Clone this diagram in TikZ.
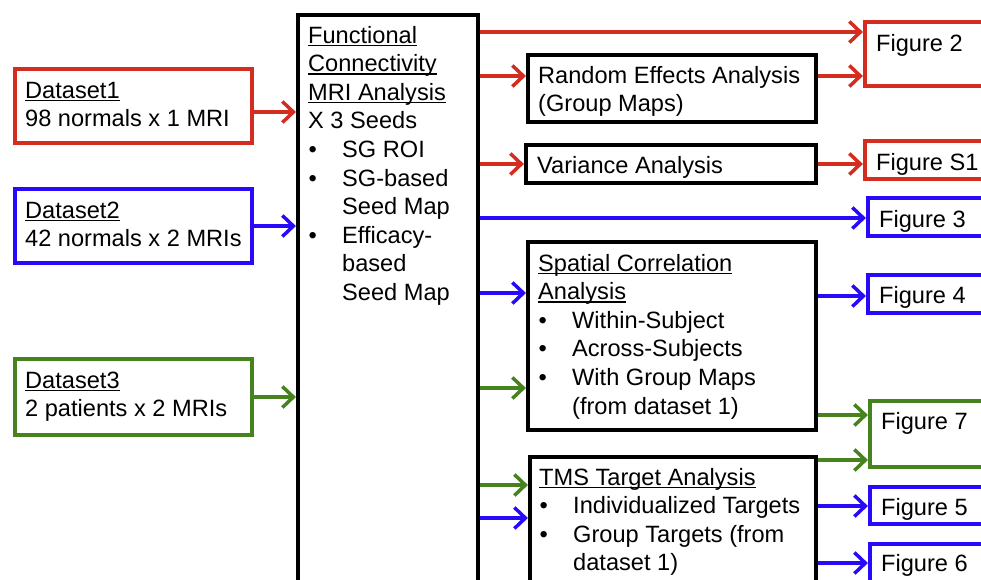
\documentclass[tikz,border=0pt]{standalone}
\usepackage{fontspec}
\setmainfont{Liberation Sans}
\usetikzlibrary{arrows.meta}
\definecolor{cred}{RGB}{212,45,32}
\definecolor{cblue}{RGB}{40,10,250}
\definecolor{cgreen}{RGB}{70,130,30}
\newcommand\myul[1]{\setbox0\hbox{#1}\rlap{\rule[-3.2pt]{\wd0}{1.4pt}}\box0}
\newcommand\bitem{\makebox[34pt][l]{\hspace{0.5pt}•}}
\newcommand\bcont{\hspace*{34pt}}
\begin{document}
\begin{tikzpicture}[x=1pt,y=-1pt,
  font=\fontsize{23.6}{28.6}\selectfont,
  bx/.style={draw, line width=4.2pt, inner sep=0pt},
  txt/.style={anchor=base west, inner sep=0pt, align=left},
  arr/.style={line width=3.5pt, -{Straight Barb[length=11pt,width=21pt]}}]
\useasboundingbox (0,0) rectangle (981,579);
\fill[white] (0,0) rectangle (981,579);
\clip (0,0) rectangle (981,579);
% left dataset boxes
\node[bx, draw=cred, minimum width=237pt, minimum height=74pt] (d1) at (133.5,106) {};
\node[bx, draw=cblue, minimum width=237pt, minimum height=74pt] (d2) at (133.5,226) {};
\node[bx, draw=cgreen, minimum width=237pt, minimum height=76pt] (d3) at (133.5,397) {};
% (multi-line text nodes are placed by the baseline of their last line)
\node[txt] (d1t) at (25,126.6) {\myul{Dataset1}\\98 normals x 1 MRI};
\node[txt] (d2t) at (25,246.6) {\myul{Dataset2}\\42 normals x 2 MRIs};
\node[txt] (d3t) at (25,416.6) {\myul{Dataset3}\\2 patients x 2 MRIs};
% main box
\node[bx, minimum width=180pt, minimum height=585pt] (main) at (388,307.5) {};
\node[txt] (maint) at (308,300.4) {\myul{Functional}\\\myul{Connectivity}\\\myul{MRI Analysis}\\X 3 Seeds\\
  \bitem SG ROI\\\bitem SG-based\\\bcont Seed Map\\\bitem Efficacy-\\\bcont based\\\bcont Seed Map};
% middle boxes
\node[bx, minimum width=288pt, minimum height=67pt] (re) at (672,88.5) {};
\node[bx, minimum width=290pt, minimum height=38pt] (va) at (671,164) {};
\node[bx, minimum width=288pt, minimum height=188pt] (sc) at (672,336) {};
\node[bx, minimum width=286pt, minimum height=143pt] (tms) at (673,528.5) {};
\node[txt] (ret) at (538,111.6) {Random Effects Analysis\\(Group Maps)};
\node[txt] (vat) at (537,173) {Variance Analysis};
\node[txt] (sct) at (538,414) {\myul{Spatial Correlation}\\\myul{Analysis}\\\bitem Within-Subject\\\bitem Across-Subjects\\\bitem With Group Maps\\\bcont (from dataset 1)};
\node[txt] (tmst) at (539,570.8) {\myul{TMS Target Analysis}\\\bitem Individualized Targets\\\bitem Group Targets (from\\\bcont dataset 1)};
% figure boxes
\node[bx, draw=cred, minimum width=135pt, minimum height=64pt] (f2) at (932.5,54) {};
\node[bx, draw=cred, minimum width=135pt, minimum height=38pt] (fs1) at (932.5,160) {};
\node[bx, draw=cblue, minimum width=132pt, minimum height=38pt] (f3) at (934,217) {};
\node[bx, draw=cblue, minimum width=132pt, minimum height=38pt] (f4) at (934,294) {};
\node[bx, draw=cgreen, minimum width=130pt, minimum height=66pt] (f7) at (935,434) {};
\node[bx, draw=cblue, minimum width=130pt, minimum height=37pt] (f5) at (935,505.5) {};
\node[bx, draw=cblue, minimum width=130pt, minimum height=56pt] (f6) at (935,572) {};
\node[txt] (f2t) at (876,51) {Figure 2};
\node[txt] (fs1t) at (876,170) {Figure S1};
\node[txt] (f3t) at (879,227) {Figure 3};
\node[txt] (f4t) at (879,303) {Figure 4};
\node[txt] (f7t) at (881,429) {Figure 7};
\node[txt] (f5t) at (881,515) {Figure 5};
\node[txt] (f6t) at (881,571) {Figure 6};
% arrow rows
\coordinate (ya) at (0,112);
\coordinate (yb) at (0,226);
\coordinate (yc) at (0,397);
\coordinate (r1) at (0,32);
\coordinate (r2) at (0,76);
\coordinate (r3) at (0,164);
\coordinate (r4) at (0,218);
\coordinate (r5) at (0,293);
\coordinate (r6) at (0,296);
\coordinate (r7) at (0,388);
\coordinate (r8) at (0,415);
\coordinate (r9) at (0,460);
\coordinate (r10) at (0,485);
\coordinate (r11) at (0,518);
\coordinate (r12) at (0,506);
\coordinate (r13) at (0,563);
% connectors
\draw[arr, cred] (d1.east |- ya) -- (main.west |- ya);
\draw[arr, cblue] (d2.east |- yb) -- (main.west |- yb);
\draw[arr, cgreen] (d3.east |- yc) -- (main.west |- yc);
\draw[arr, cred] (main.east |- r1) -- (f2.west |- r1);
\draw[arr, cred] (main.east |- r2) -- (re.west |- r2);
\draw[arr, cred] (re.east |- r2) -- (f2.west |- r2);
\draw[arr, cred] (main.east |- r3) -- (va.west |- r3);
\draw[arr, cred] (va.east |- r3) -- (fs1.west |- r3);
\draw[arr, cblue] (main.east |- r4) -- (f3.west |- r4);
\draw[arr, cblue] (main.east |- r5) -- (sc.west |- r5);
\draw[arr, cblue] (sc.east |- r6) -- (f4.west |- r6);
\draw[arr, cgreen] (main.east |- r7) -- (sc.west |- r7);
\draw[arr, cgreen] (sc.east |- r8) -- (f7.west |- r8);
\draw[arr, cgreen] (tms.east |- r9) -- (f7.west |- r9);
\draw[arr, cgreen] (main.east |- r10) -- (tms.west |- r10);
\draw[arr, cblue] (main.east |- r11) -- (tms.west |- r11);
\draw[arr, cblue] (tms.east |- r12) -- (f5.west |- r12);
\draw[arr, cblue] (tms.east |- r13) -- (f6.west |- r13);
\end{tikzpicture}
\end{document}
